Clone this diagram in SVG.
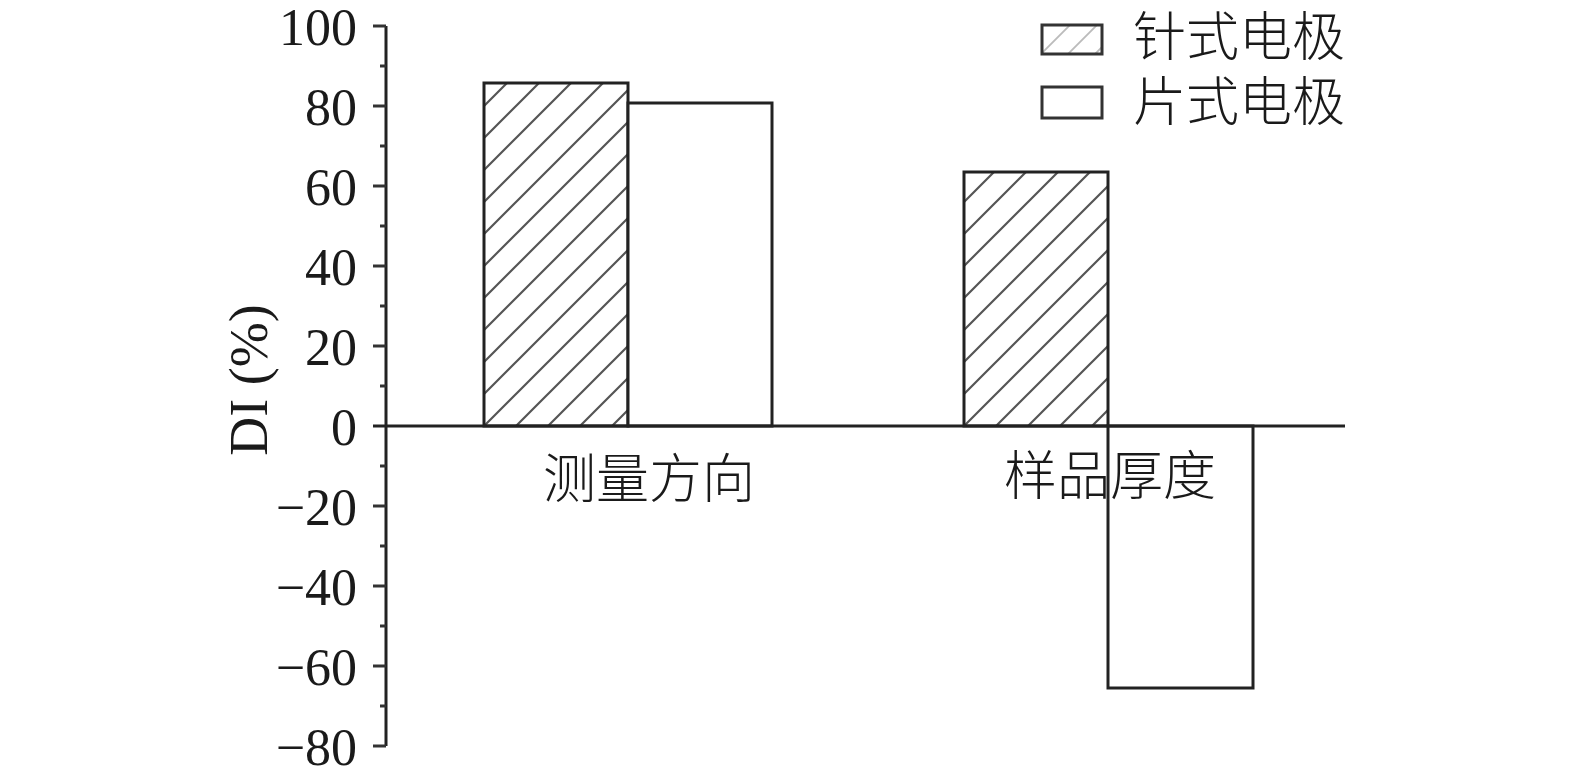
<svg xmlns="http://www.w3.org/2000/svg" width="1575" height="783" viewBox="0 0 1575 783">
<style>
.num{font-family:"Liberation Serif","Times New Roman",serif;font-size:52px;fill:#1a1a1a;text-anchor:end}
.lab{font-family:"Liberation Serif","Times New Roman",serif;font-size:54px;fill:#1a1a1a}
.cjk{font-family:"Liberation Serif","Noto Sans CJK SC",sans-serif;font-size:53px;fill:#1a1a1a;font-weight:300}
.bar{stroke:#222;stroke-width:3}
.ax{stroke:#222;stroke-width:3;fill:none}
.tk{stroke:#333;stroke-width:3}
</style>
<defs>
<pattern id="hatch" patternUnits="userSpaceOnUse" width="32" height="32" x="484" y="426">
<rect width="32" height="32" fill="#fff"/>
<path d="M-8,40 L40,-8 M-8,8 L8,-8 M24,40 L40,24" stroke="#555" stroke-width="2.2"/>
</pattern>
<pattern id="hatchL" patternUnits="userSpaceOnUse" width="27" height="27" x="1042" y="53">
<rect width="27" height="27" fill="#fff"/>
<path d="M-7,34 L34,-7 M-7,7 L7,-7 M20,34 L34,20" stroke="#bbb" stroke-width="1.8"/>
</pattern>
</defs>
<rect width="1575" height="783" fill="#fff"/>
<g id="bars">
<rect id="bar-needle-dir" class="bar" x="484" y="83" width="144" height="343" fill="url(#hatch)"/>
<rect id="bar-plate-dir" class="bar" x="628" y="103" width="144" height="323" fill="#fff"/>
<rect id="bar-needle-thick" class="bar" x="964" y="172" width="144" height="254" fill="url(#hatch)"/>
<rect id="bar-plate-thick" class="bar" x="1108" y="426" width="145" height="262" fill="#fff"/>
</g>
<g id="axes">
<line class="ax" x1="386" y1="26" x2="386" y2="746"/>
<line class="ax" x1="373" y1="426" x2="1345" y2="426"/>
<g class="tk">
<line x1="373" y1="26" x2="386" y2="26"/>
<line x1="373" y1="106" x2="386" y2="106"/>
<line x1="373" y1="186" x2="386" y2="186"/>
<line x1="373" y1="266" x2="386" y2="266"/>
<line x1="373" y1="346" x2="386" y2="346"/>
<line x1="373" y1="506" x2="386" y2="506"/>
<line x1="373" y1="586" x2="386" y2="586"/>
<line x1="373" y1="666" x2="386" y2="666"/>
<line x1="373" y1="746" x2="386" y2="746"/>
<line x1="380" y1="66" x2="386" y2="66"/>
<line x1="380" y1="146" x2="386" y2="146"/>
<line x1="380" y1="226" x2="386" y2="226"/>
<line x1="380" y1="306" x2="386" y2="306"/>
<line x1="380" y1="386" x2="386" y2="386"/>
<line x1="380" y1="466" x2="386" y2="466"/>
<line x1="380" y1="546" x2="386" y2="546"/>
<line x1="380" y1="626" x2="386" y2="626"/>
<line x1="380" y1="706" x2="386" y2="706"/>
</g>
<text class="num" x="357" y="45">100</text>
<text class="num" x="357" y="125">80</text>
<text class="num" x="357" y="205">60</text>
<text class="num" x="357" y="285">40</text>
<text class="num" x="357" y="365">20</text>
<text class="num" x="357" y="445">0</text>
<text class="num" x="357" y="525">−20</text>
<text class="num" x="357" y="605">−40</text>
<text class="num" x="357" y="685">−60</text>
<text class="num" x="357" y="765">−80</text>
<text class="lab" transform="translate(267,380) rotate(-90)" text-anchor="middle">DI (%)</text>
<text class="cjk" x="649" y="480" text-anchor="middle" dominant-baseline="central">测量方向</text>
<text class="cjk" x="1110" y="477" text-anchor="middle" dominant-baseline="central">样品厚度</text>
</g>
<g id="legend">
<g id="legend-needle">
<rect x="1042" y="25" width="60" height="29" fill="url(#hatchL)" stroke="#333" stroke-width="3"/>
<text class="cjk" x="1133" y="38" dominant-baseline="central">针式电极</text>
</g>
<g id="legend-plate">
<rect x="1042" y="87" width="60" height="31" fill="#fff" stroke="#333" stroke-width="3"/>
<text class="cjk" x="1133" y="103" dominant-baseline="central">片式电极</text>
</g>
</g>
</svg>
